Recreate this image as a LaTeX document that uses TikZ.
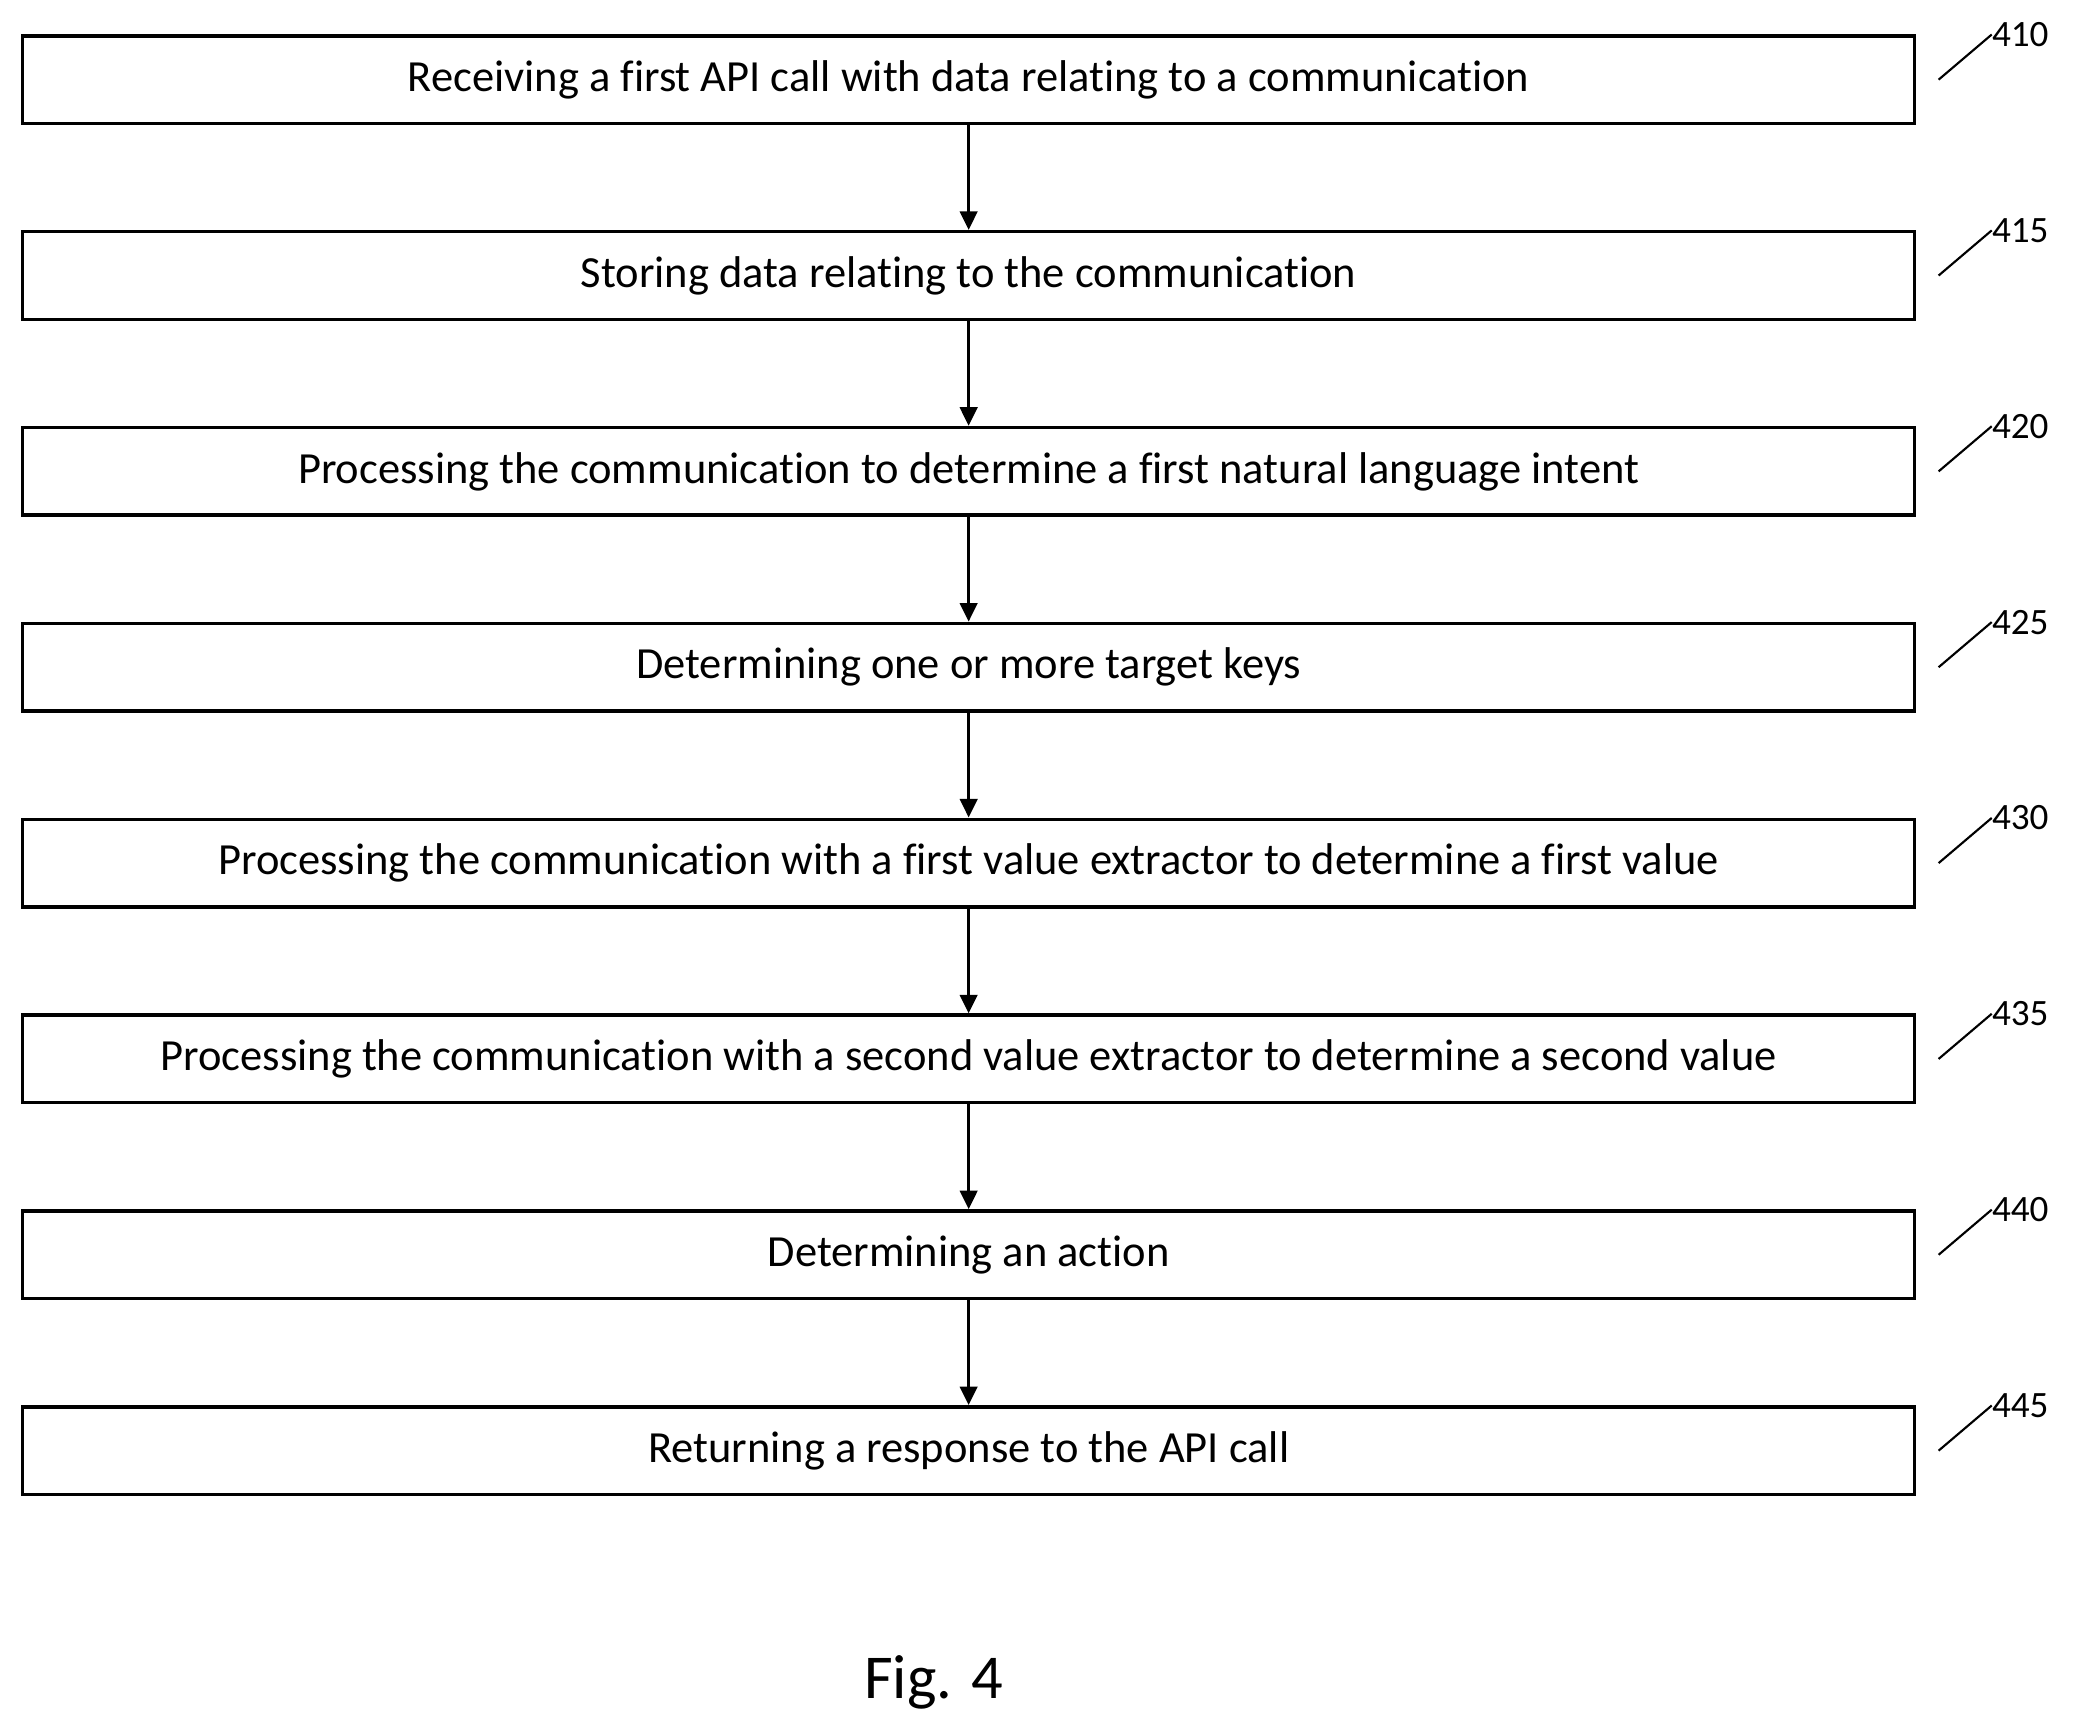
\documentclass[tikz,border=0pt]{standalone}
\usepackage{fontspec}
\setmainfont[Ligatures=NoCommon]{Carlito}
\usetikzlibrary{arrows.meta}
\begin{document}
\begin{tikzpicture}[x=1pt,y=-1pt,
 box/.style={draw,line width=2.6pt,minimum width=1425pt,minimum height=66pt,inner sep=0pt,font=\fontsize{33.5}{38}\selectfont},
 arr/.style={line width=2.6pt,-{Triangle[length=14pt,width=13pt]}},
 lbl/.style={font=\fontsize{28}{32}\selectfont,anchor=west,inner sep=0pt},
 lead/.style={line width=1.6pt}]
\useasboundingbox (0,0) rectangle (1568,1307);
\foreach \i/\t/\n in {0/Receiving a first API call with data relating to a communication/410,
1/Storing data relating to the communication/415,
2/Processing the communication to determine a first natural language intent/420,
3/Determining one or more target keys/425,
4/Processing the communication with a first value extractor to determine a first value/430,
5/Processing the communication with a second value extractor to determine a second value/435,
6/Determining an action/440,
7/Returning a response to the API call/445}{
 \node[box] (b\i) at (729.5,{60+147.5*\i}) {\t};
 \node[lbl] (l\i) at (1500,{26+147.5*\i}) {\n};
 \coordinate (s\i) at (1460,{60+147.5*\i});
 \draw[lead] (s\i) -- (l\i.west);
}
\foreach \i [evaluate=\i as \j using int(\i+1)] in {0,...,6}{\draw[arr] (b\i) -- (b\j);}
\node[font=\fontsize{47}{54}\selectfont] (fig) at (703,1267) {Fig. 4};
\end{tikzpicture}
\end{document}
